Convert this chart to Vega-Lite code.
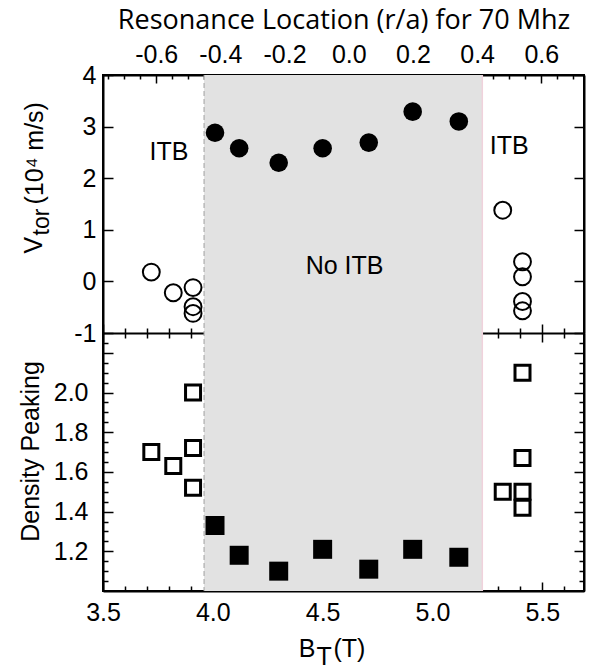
{
  "$schema": "https://vega.github.io/schema/vega-lite/v6.json",
  "padding": {"left": 18, "top": 6, "right": 5, "bottom": 0},
  "width": 481,
  "height": 516,
  "config": {
    "font": "Liberation Sans",
    "view": {"stroke": "black", "strokeWidth": 2},
    "axis": {
      "grid": false,
      "domainColor": "black",
      "domainWidth": 2,
      "tickColor": "black",
      "tickWidth": 1.5,
      "labelColor": "black",
      "labelFont": "Liberation Sans",
      "labelFontSize": 25,
      "titleColor": "black",
      "titleFont": "Liberation Sans",
      "titleFontSize": 25,
      "titleFontWeight": "normal",
      "labelOverlap": false,
      "labelFlush": false,
      "labelBound": false
    }
  },
  "datasets": {
    "band": [{"b0": 3.96, "b1": 5.227}],
    "vtor": [
      {"bt": 4.01, "v": 2.88, "itb": "no"},
      {"bt": 4.12, "v": 2.58, "itb": "no"},
      {"bt": 4.3, "v": 2.3, "itb": "no"},
      {"bt": 4.5, "v": 2.58, "itb": "no"},
      {"bt": 4.71, "v": 2.69, "itb": "no"},
      {"bt": 4.91, "v": 3.29, "itb": "no"},
      {"bt": 5.12, "v": 3.1, "itb": "no"},
      {"bt": 3.72, "v": 0.18, "itb": "yes"},
      {"bt": 3.82, "v": -0.22, "itb": "yes"},
      {"bt": 3.91, "v": -0.12, "itb": "yes"},
      {"bt": 3.91, "v": -0.49, "itb": "yes"},
      {"bt": 3.91, "v": -0.62, "itb": "yes"},
      {"bt": 5.32, "v": 1.38, "itb": "yes"},
      {"bt": 5.41, "v": 0.38, "itb": "yes"},
      {"bt": 5.41, "v": 0.09, "itb": "yes"},
      {"bt": 5.41, "v": -0.39, "itb": "yes"},
      {"bt": 5.41, "v": -0.57, "itb": "yes"}
    ],
    "peak": [
      {"bt": 4.01, "p": 1.33, "itb": "no"},
      {"bt": 4.12, "p": 1.18, "itb": "no"},
      {"bt": 4.3, "p": 1.1, "itb": "no"},
      {"bt": 4.5, "p": 1.21, "itb": "no"},
      {"bt": 4.71, "p": 1.11, "itb": "no"},
      {"bt": 4.91, "p": 1.21, "itb": "no"},
      {"bt": 5.12, "p": 1.17, "itb": "no"},
      {"bt": 3.72, "p": 1.7, "itb": "yes"},
      {"bt": 3.82, "p": 1.63, "itb": "yes"},
      {"bt": 3.91, "p": 2.0, "itb": "yes"},
      {"bt": 3.91, "p": 1.72, "itb": "yes"},
      {"bt": 3.91, "p": 1.52, "itb": "yes"},
      {"bt": 5.41, "p": 2.1, "itb": "yes"},
      {"bt": 5.41, "p": 1.67, "itb": "yes"},
      {"bt": 5.32, "p": 1.5, "itb": "yes"},
      {"bt": 5.41, "p": 1.5, "itb": "yes"},
      {"bt": 5.41, "p": 1.42, "itb": "yes"}
    ],
    "notes": [
      {"bt": 3.8, "v": 2.5, "label": "ITB"},
      {"bt": 5.35, "v": 2.63, "label": "ITB"},
      {"bt": 4.6, "v": 0.3, "label": "No ITB"}
    ]
  },
  "layer": [
    {
      "data": {"name": "band"},
      "mark": {"type": "rect", "color": "#e2e2e2"},
      "encoding": {
        "x": {
          "field": "b0", "type": "quantitative",
          "scale": {"domain": [3.5, 5.69], "nice": false, "zero": false},
          "axis": {
            "orient": "bottom",
            "values": [3.5, 3.6, 3.7, 3.8, 3.9, 4.0, 4.1, 4.2, 4.3, 4.4, 4.5, 4.6, 4.7, 4.8, 4.9, 5.0, 5.1, 5.2, 5.3, 5.4, 5.5, 5.6],
            "tickSize": {"condition": {"test": "abs(round(datum.value*10)) % 5 === 0", "value": -9}, "value": -5},
            "labelExpr": "abs(round(datum.value*10)) % 5 === 0 ? format(datum.value, '.1f') : ''",
            "labelPadding": 18,
            "title": "B",
            "titleX": 212,
            "titleY": 65,
            "titleAlign": "right",
            "titleBaseline": "alphabetic"
          }
        },
        "x2": {"field": "b1"}
      }
    },
    {
      "data": {"name": "band"},
      "mark": {"type": "rule", "color": "#a0a0a0", "strokeDash": [5, 3], "strokeWidth": 1},
      "encoding": {
        "x": {
          "field": "b0", "type": "quantitative",
          "axis": {
            "orient": "top",
            "values": [3.52315, 3.59621, 3.66927, 3.74232, 3.81538, 3.88843, 3.96149, 4.03455, 4.1076, 4.18066, 4.25372, 4.32677, 4.39983, 4.47289, 4.54594, 4.619, 4.69206, 4.76511, 4.83817, 4.91123, 4.98428, 5.05734, 5.1304, 5.20345, 5.27651, 5.34957, 5.42262, 5.49568, 5.56874, 5.64179],
            "tickSize": {"condition": {"test": "abs(round((datum.value-4.619)*13.688)) % 4 === 0", "value": -8}, "value": -4},
            "labelExpr": "abs(round((datum.value-4.619)*13.688)) % 4 === 0 ? (round((datum.value-4.619)*13.688) < 0 ? '-' : '') + format(abs(round((datum.value-4.619)*13.688))/20, '.1f') : ''",
            "labelPadding": 16,
            "title": "Resonance Location (r/a) for 70 Mhz",
            "titleFont": "Open Sans",
            "titleFontSize": 27,
            "titlePadding": 4
          }
        }
      }
    },
    {
      "data": {"name": "band"},
      "mark": {"type": "rule", "color": "#f0d2dc", "strokeWidth": 1.5},
      "encoding": {
        "x": {
          "field": "b1", "type": "quantitative",
          "axis": {
            "orient": "bottom",
            "domain": false,
            "ticks": false,
            "labels": false,
            "title": "T",
            "titleX": 213,
            "titleY": 73,
            "titleAlign": "left",
            "titleBaseline": "alphabetic"
          }
        }
      }
    },
    {
      "data": {"name": "vtor"},
      "transform": [{"filter": "datum.itb === 'yes'"}],
      "mark": {"type": "point", "shape": "circle", "filled": false, "color": "black", "strokeWidth": 2, "size": 285, "opacity": 1},
      "encoding": {
        "x": {
          "field": "bt", "type": "quantitative",
          "axis": {
            "orient": "bottom",
            "offset": -258,
            "values": [3.5, 3.6, 3.7, 3.8, 3.9, 4.0, 4.1, 4.2, 4.3, 4.4, 4.5, 4.6, 4.7, 4.8, 4.9, 5.0, 5.1, 5.2, 5.3, 5.4, 5.5, 5.6],
            "tickSize": {"condition": {"test": "abs(round(datum.value*10)) % 5 === 0", "value": -9}, "value": -5},
            "labels": false,
            "title": null
          }
        },
        "y": {
          "field": "v", "type": "quantitative",
          "scale": {"domain": [-1, 4], "range": [258, 0], "nice": false, "zero": false},
          "axis": {
            "orient": "left",
            "values": [-1, 0, 1, 2, 3, 4],
            "tickSize": -10,
            "labelPadding": 17,
            "labelExpr": "(datum.value < 0 ? '-' : '') + format(abs(datum.value), 'd')",
            "title": "(10⁴ m/s)",
            "titleX": -61,
            "titleY": 129,
            "titleAlign": "left",
            "titleBaseline": "alphabetic"
          }
        }
      }
    },
    {
      "data": {"name": "vtor"},
      "transform": [{"filter": "datum.itb === 'no'"}],
      "mark": {"type": "point", "shape": "circle", "filled": true, "color": "black", "size": 346, "opacity": 1},
      "encoding": {
        "x": {
          "field": "bt", "type": "quantitative",
          "axis": {
            "orient": "top",
            "offset": -258,
            "values": [3.5, 3.6, 3.7, 3.8, 3.9, 4.0, 4.1, 4.2, 4.3, 4.4, 4.5, 4.6, 4.7, 4.8, 4.9, 5.0, 5.1, 5.2, 5.3, 5.4, 5.5, 5.6],
            "tickSize": {"condition": {"test": "abs(round(datum.value*10)) % 5 === 0", "value": -9}, "value": -5},
            "labels": false,
            "domain": false,
            "title": null
          }
        },
        "y": {
          "field": "v", "type": "quantitative",
          "scale": {"domain": [-1, 4], "range": [258, 0], "nice": false, "zero": false},
          "axis": {
            "orient": "left",
            "domain": false,
            "ticks": false,
            "labels": false,
            "title": "V",
            "titleX": -62,
            "titleY": 178,
            "titleAlign": "left",
            "titleBaseline": "alphabetic"
          }
        }
      }
    },
    {
      "data": {"name": "vtor"},
      "mark": {"type": "point", "opacity": 0},
      "encoding": {
        "x": {"field": "bt", "type": "quantitative", "axis": null},
        "y": {
          "field": "v", "type": "quantitative",
          "scale": {"domain": [-1, 4], "range": [258, 0], "nice": false, "zero": false},
          "axis": {"orient": "right", "values": [-1, 0, 1, 2, 3, 4], "tickSize": -10, "labels": false, "title": null}
        }
      }
    },
    {
      "data": {"name": "notes"},
      "mark": {"type": "text", "font": "Liberation Sans", "fontSize": 25, "color": "black"},
      "encoding": {
        "x": {
          "field": "bt", "type": "quantitative",
          "axis": {
            "orient": "bottom",
            "domain": false,
            "ticks": false,
            "labels": false,
            "title": "(T)",
            "titleX": 230,
            "titleY": 65,
            "titleAlign": "left",
            "titleBaseline": "alphabetic"
          }
        },
        "y": {
          "field": "v", "type": "quantitative",
          "scale": {"domain": [-1, 4], "range": [258, 0], "nice": false, "zero": false},
          "axis": {
            "orient": "left",
            "domain": false,
            "ticks": false,
            "labels": false,
            "title": "tor",
            "titleFontSize": 23,
            "titleX": -55,
            "titleY": 160,
            "titleAlign": "left",
            "titleBaseline": "alphabetic"
          }
        },
        "text": {"field": "label"}
      }
    },
    {
      "data": {"name": "peak"},
      "transform": [{"filter": "datum.itb === 'yes'"}],
      "mark": {"type": "point", "shape": "square", "filled": false, "color": "black", "strokeWidth": 3, "size": 225, "opacity": 1},
      "encoding": {
        "x": {"field": "bt", "type": "quantitative", "axis": null},
        "y": {
          "field": "p", "type": "quantitative",
          "scale": {"domain": [1.0, 2.3], "range": [516, 258], "nice": false, "zero": false},
          "axis": {
            "orient": "left",
            "values": [1.05, 1.1, 1.15, 1.2, 1.25, 1.3, 1.35, 1.4, 1.45, 1.5, 1.55, 1.6, 1.65, 1.7, 1.75, 1.8, 1.85, 1.9, 1.95, 2.0, 2.05, 2.1, 2.15, 2.2, 2.25],
            "tickSize": {"condition": {"test": "abs(round(datum.value*20)) % 4 === 0", "value": -10}, "value": -5},
            "labelExpr": "abs(round(datum.value*20)) % 4 === 0 && datum.value < 2.1 ? format(datum.value, '.1f') : ''",
            "labelPadding": 25,
            "title": "Density Peaking",
            "titleX": -65,
            "titleY": 376,
            "titleAlign": "center",
            "titleBaseline": "alphabetic"
          }
        }
      }
    },
    {
      "data": {"name": "peak"},
      "transform": [{"filter": "datum.itb === 'no'"}],
      "mark": {"type": "square", "color": "black", "size": 361, "opacity": 1},
      "encoding": {
        "x": {"field": "bt", "type": "quantitative", "axis": null},
        "y": {
          "field": "p", "type": "quantitative",
          "scale": {"domain": [1.0, 2.3], "range": [516, 258], "nice": false, "zero": false},
          "axis": {
            "orient": "right",
            "values": [1.05, 1.1, 1.15, 1.2, 1.25, 1.3, 1.35, 1.4, 1.45, 1.5, 1.55, 1.6, 1.65, 1.7, 1.75, 1.8, 1.85, 1.9, 1.95, 2.0, 2.05, 2.1, 2.15, 2.2, 2.25],
            "tickSize": {"condition": {"test": "abs(round(datum.value*20)) % 4 === 0", "value": -10}, "value": -5},
            "labels": false,
            "title": null
          }
        }
      }
    }
  ],
  "resolve": {"scale": {"y": "independent"}, "axis": {"x": "independent", "y": "independent"}}
}
